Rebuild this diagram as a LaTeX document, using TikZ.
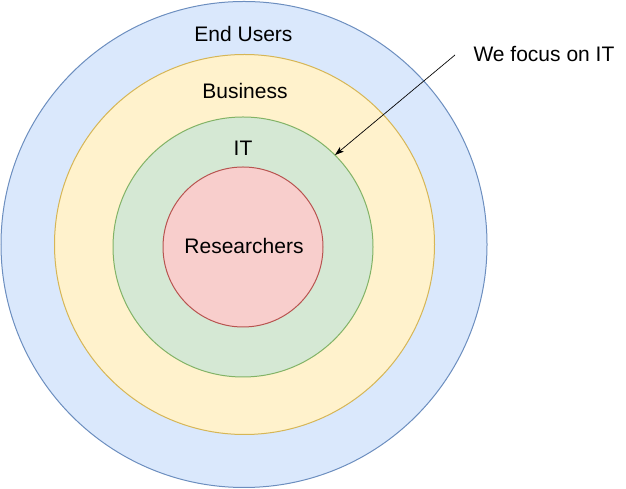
\documentclass[tikz,border=0pt]{standalone}
\usepackage{fontspec}
\setmainfont{Liberation Sans}
\usetikzlibrary{arrows.meta}
\tikzset{ring/.style={circle, draw, line width=1pt, inner sep=0pt, outer sep=0pt}}
\tikzset{label text/.style={anchor=base, font=\fontsize{21}{25}\selectfont}}

\begin{document}
\begin{tikzpicture}[x=1pt, y=1pt]
    \useasboundingbox (0, 0) rectangle (626, 489);
    \node [ring, fill={rgb,255:red,218;green,232;blue,252}, draw={rgb,255:red,108;green,142;blue,191}, minimum size=486] (users) at (244, 244.5) {};
    \node [ring, fill={rgb,255:red,255;green,242;blue,204}, draw={rgb,255:red,214;green,182;blue,86}, minimum size=380] (business) at (244.5, 244.5) {};
    \node [ring, fill={rgb,255:red,213;green,232;blue,212}, draw={rgb,255:red,130;green,179;blue,102}, minimum size=260] (it) at (243, 242) {};
    \node [ring, fill={rgb,255:red,248;green,206;blue,204}, draw={rgb,255:red,184;green,84;blue,80}, minimum size=160] (researchers) at (243, 242) {};
    \node [label text] (users label) at (243.5, 447) {End Users};
    \node [label text] (business label) at (245, 390) {Business};
    \node [label text] (it label) at (243, 333) {IT};
    \node [label text] (researchers label) at (244, 235) {Researchers};
    \node [label text, anchor=base west] (focus) at (470, 427) {We focus on IT};
    \coordinate (tail) at (455, 434);
    \draw [-{Stealth[length=9pt, width=6pt, inset=2pt]}, line width=0.7pt] (tail) -- (it.45);
\end{tikzpicture}
\end{document}
